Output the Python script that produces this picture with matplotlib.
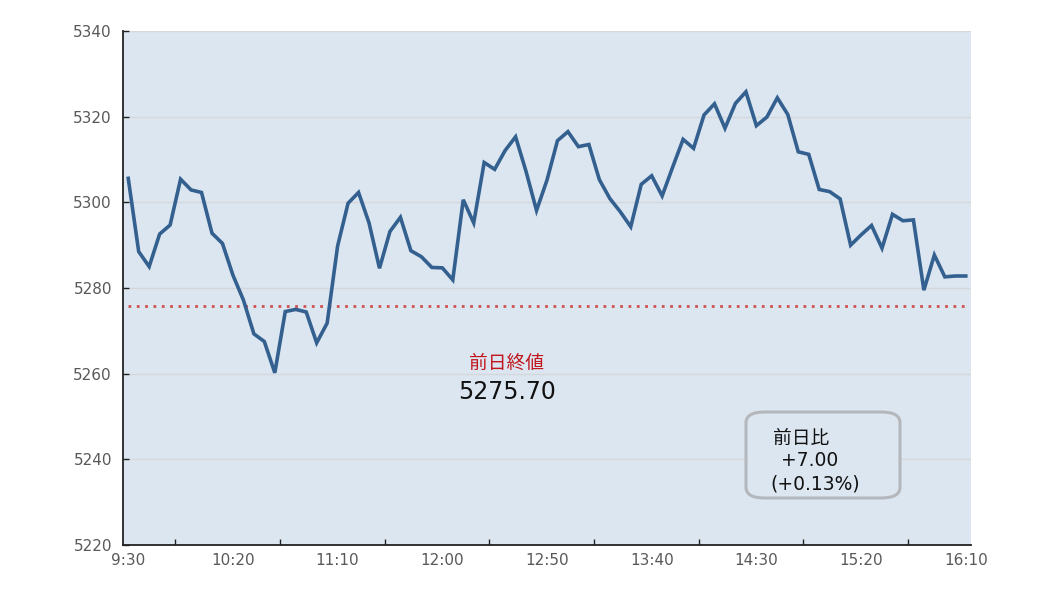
import numpy as np
import matplotlib
matplotlib.use("Agg")
import matplotlib.pyplot as plt
from matplotlib.patches import FancyBboxPatch

plt.rcParams['font.family'] = ['DejaVu Sans', 'Noto Sans CJK JP']

# 5分足の終値 (9:30 - 16:10)
values = [5305.6, 5288.5, 5285.0, 5292.6, 5294.7, 5305.4, 5302.9, 5302.3, 5292.8, 5290.4,
          5283.0, 5277.2, 5269.3, 5267.5, 5260.2, 5274.5, 5275.0, 5274.4, 5267.2, 5271.8,
          5289.8, 5299.8, 5302.3, 5295.2, 5284.6, 5293.2, 5296.5, 5288.7, 5287.3, 5284.8,
          5284.7, 5281.9, 5300.6, 5295.2, 5309.3, 5307.7, 5312.1, 5315.3, 5307.2, 5298.1,
          5305.2, 5314.4, 5316.5, 5313.0, 5313.5, 5305.3, 5300.9, 5297.8, 5294.3, 5304.2,
          5306.2, 5301.5, 5308.2, 5314.7, 5312.6, 5320.4, 5323.0, 5317.3, 5323.1, 5325.8,
          5317.9, 5319.9, 5324.4, 5320.5, 5311.8, 5311.2, 5303.0, 5302.5, 5300.8, 5290.0,
          5292.4, 5294.6, 5289.3, 5297.2, 5295.7, 5295.9, 5279.5, 5287.7, 5282.6, 5282.8,
          5282.8]
prev_close = 5275.70
tick_labels = ["9:30", "10:20", "11:10", "12:00", "12:50", "13:40", "14:30", "15:20", "16:10"]
yticks = [5220, 5240, 5260, 5280, 5300, 5320, 5340]

fig = plt.figure(figsize=(10.37, 5.98), dpi=100)
ax = fig.add_axes([123/1037, 53/598, 848/1037, 514/598])
ax.set_facecolor('#dce6f1')

x = np.arange(len(values))
ax.plot(x, values, color='#33608f', lw=2.6, solid_joinstyle='miter', zorder=3)
ax.plot([x[0], x[-1]], [prev_close, prev_close], color='#d0504d', lw=2,
        dashes=(1, 2), dash_capstyle='butt', zorder=2)

ax.set_xlim(-0.5, len(values) - 0.5)
ax.set_ylim(5220, 5340)
ax.set_yticks(yticks)
ax.yaxis.grid(True, color='#d4d8dc', lw=1)
ax.set_axisbelow(True)

ax.set_xticks(x[::10])
ax.set_xticklabels(tick_labels)
ax.set_xticks(np.arange(4.5, len(values), 10), minor=True)
ax.tick_params(axis='x', which='major', length=0, pad=6, labelsize=11, labelcolor='#595959')
ax.tick_params(axis='x', which='minor', direction='in', length=4, width=1, color='#222222')
ax.tick_params(axis='y', direction='in', length=4, width=1, color='#222222',
               pad=8, labelsize=11, labelcolor='#595959')

for s in ['top', 'right']:
    ax.spines[s].set_visible(False)
for s in ['left', 'bottom']:
    ax.spines[s].set_color('#222222')
    ax.spines[s].set_linewidth(1.3)

# 前日終値ラベル
fig.text(507/1037, 1 - 363/598, "前日終値", color='#c0161c', fontsize=13.5,
         family='Noto Sans CJK JP', ha='center', va='center')
fig.text(507/1037, 1 - 392/598, "5275.70", color='#111111', fontsize=17,
         ha='center', va='center')

# 前日比ボックス
box = FancyBboxPatch((746/1037, 1 - 498/598), 154/1037, 86/598,
                     boxstyle="round,pad=0,rounding_size=0.018",
                     transform=fig.transFigure, facecolor='#dce6f1',
                     edgecolor='#b4b8bc', lw=2.2, zorder=5)
fig.patches.append(box)
fig.text(773/1037, 1 - 438/598, "前日比", fontsize=13.5, color='#111111',
         family='Noto Sans CJK JP', ha='left', va='center', zorder=6)
fig.text(781/1037, 1 - 461/598, "+7.00", fontsize=13.5, color='#111111',
         ha='left', va='center', zorder=6)
fig.text(770/1037, 1 - 484/598, "(+0.13%)", fontsize=13.5, color='#111111',
         ha='left', va='center', zorder=6)

fig.savefig("out.png", dpi=100)
